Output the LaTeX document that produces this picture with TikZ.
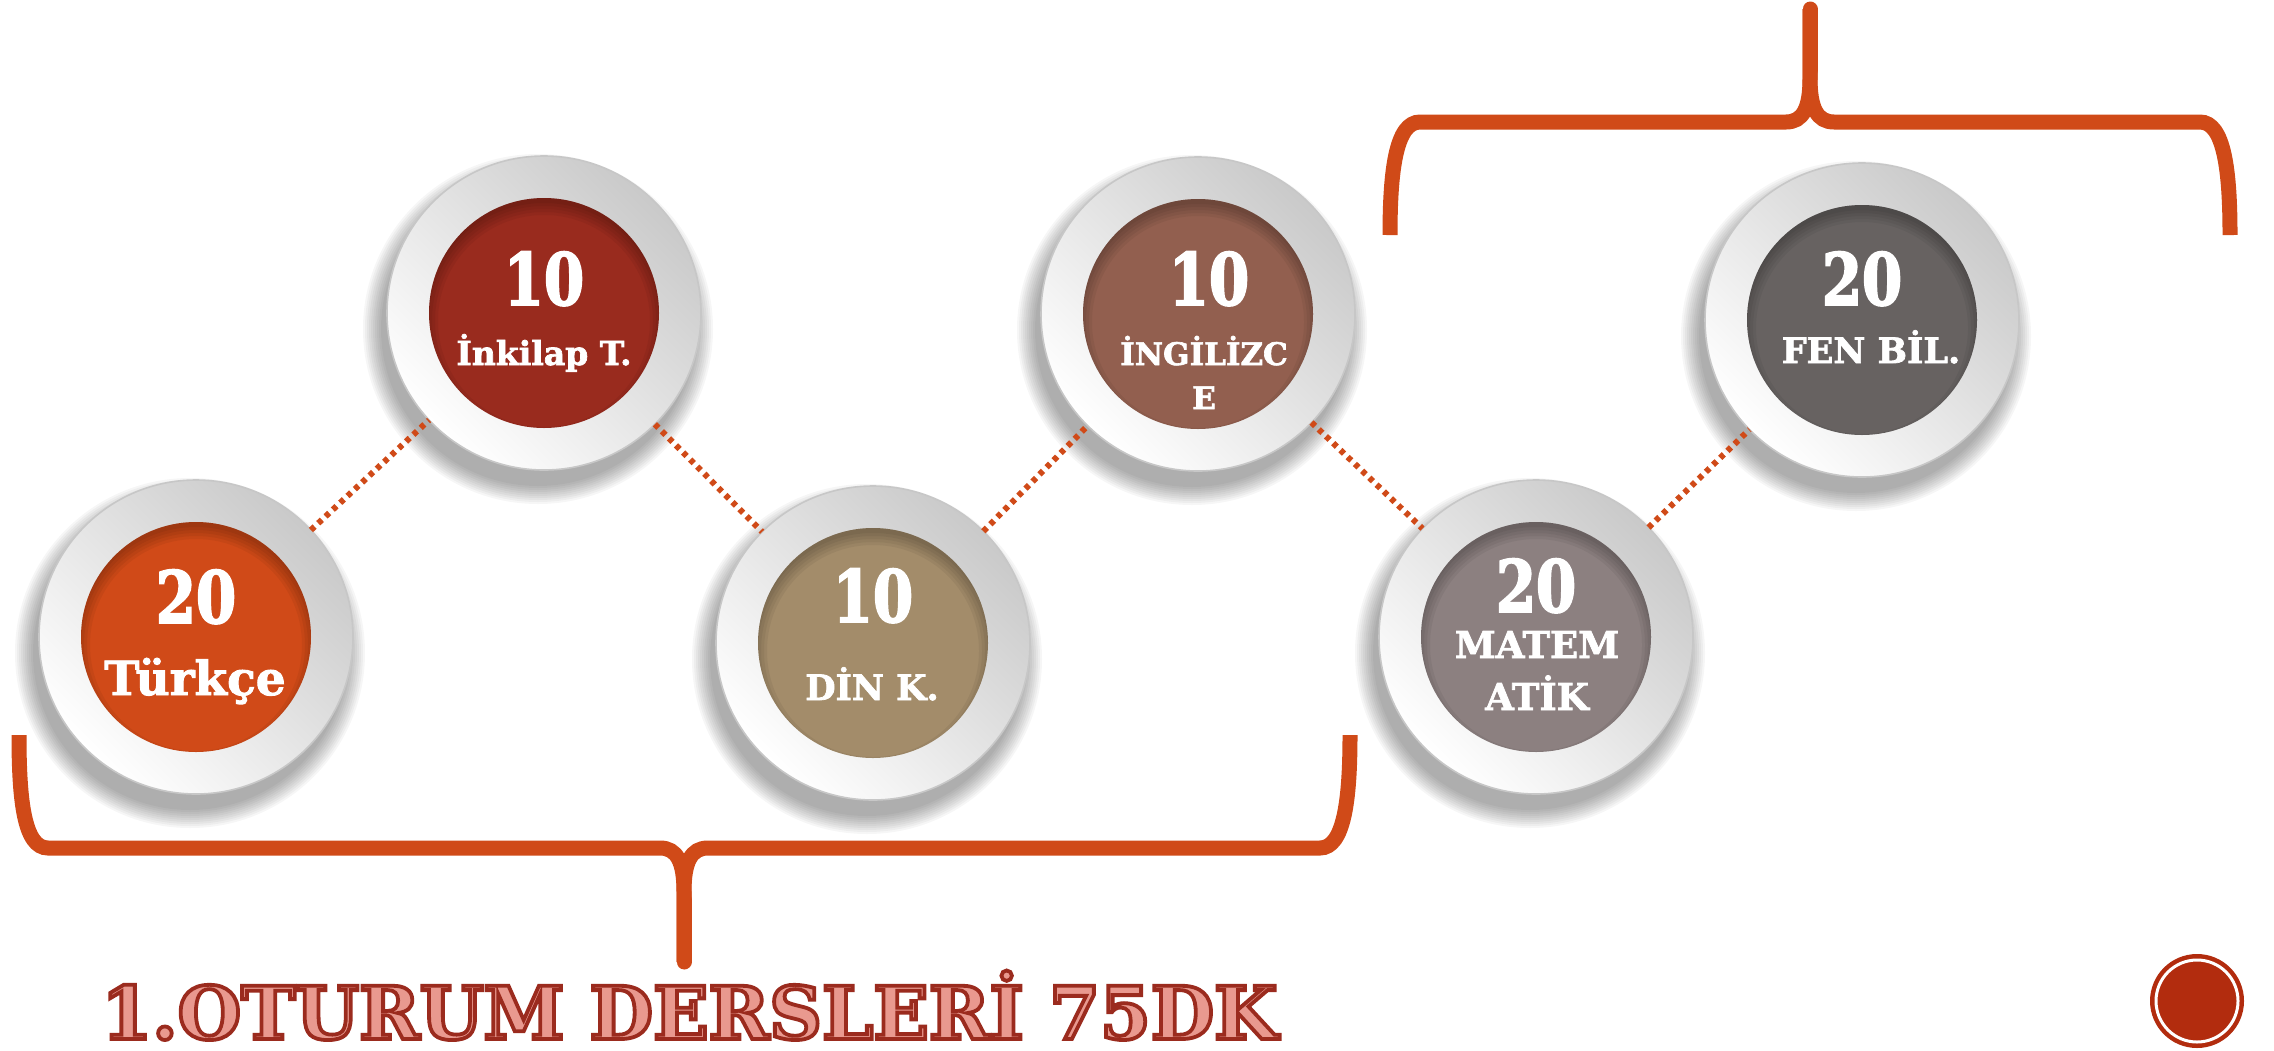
\documentclass[tikz,border=0pt]{standalone}
\usepackage{fontspec}
\setmainfont{DejaVu Serif}
\newfontfamily\slab{DejaVu Serif}[FakeBold=2]
\newfontfamily\slabnum{DejaVu Serif}[FakeStretch=0.8, FakeBold=2.5]
\newfontfamily\titlefont{DejaVu Serif}[FakeBold=5.2]
\usetikzlibrary{calc}
\definecolor{brace}{RGB}{208,74,24}
\definecolor{cT}{RGB}{208,74,24}
\definecolor{cI}{RGB}{153,43,30}
\definecolor{cD}{RGB}{163,140,106}
\definecolor{cE}{RGB}{146,95,79}
\definecolor{cM}{RGB}{140,128,128}
\definecolor{cF}{RGB}{103,98,97}
\definecolor{tdark}{RGB}{155,43,30}
\definecolor{tpink}{RGB}{233,153,143}
\definecolor{slideno}{RGB}{178,44,14}
\newcommand\lblfont[1]{\slab\bfseries\fontsize{#1}{#1}\selectfont}
\tikzset{
  ring/.style={circle, inner sep=0pt, outer sep=0pt, minimum size=314*0.5pt,
    top color=black!21, bottom color=white, shading angle=-45, draw=black!22, line width=0.8pt},
  disk/.style={circle, inner sep=0pt, minimum size=230*0.5pt},
  num/.style={text=white, font=\slabnum\bfseries\fontsize{36}{36}\selectfont, anchor=base, inner sep=0pt},
  lbl/.style={text=white, anchor=base, inner sep=0pt},
  dotline/.style={draw=brace, line width=3pt, dash pattern=on 2.5pt off 2.5pt},
  bracepath/.style={draw=brace, line width=7.5pt},
  ttl/.style={anchor=base west, inner sep=0pt, font=\titlefont\bfseries\fontsize{36.5}{36.5}\selectfont},
}
\newcommand\mkplate[4]{%
  \foreach \k in {0,...,9} {\fill[black, opacity=0.035] (#2-6,#3+16) circle (157+2*\k);}
  \node[ring] (#1) at (#2,#3) {};
  \node[disk, fill=#4] (#1in) at (#1) {};
  \begin{scope}
    \clip (#2,#3) circle (115);
    \foreach \k in {1,...,5} {\draw[black, opacity=0.05, line width=\k*3pt] (#2,#3+8) circle (121);}
  \end{scope}
}
\begin{document}
\begin{tikzpicture}[x=0.5pt, y=-0.5pt]
\useasboundingbox (0,0) rectangle (2274,1050);
\fill[white] (0,0) rectangle (2274,1050);

% braces
\draw[bracepath] (19,735) .. controls (19,800) and (24,848) .. (48,848) -- (660,848)
  .. controls (677,848) and (684,862) .. (684,892) -- (684,962);
\draw[bracepath] (1350,735) .. controls (1350,800) and (1344,848) .. (1320,848) -- (708,848)
  .. controls (691,848) and (684,862) .. (684,892) -- (684,962);
\draw[bracepath, line cap=round] (684,900) -- (684,962);

\draw[bracepath] (1390,235) .. controls (1390,170) and (1396,122) .. (1420,122) -- (1786,122)
  .. controls (1803,122) and (1810,108) .. (1810,78) -- (1810,9);
\draw[bracepath] (2230,235) .. controls (2230,170) and (2224,122) .. (2200,122) -- (1834,122)
  .. controls (1817,122) and (1810,108) .. (1810,78) -- (1810,9);
\draw[bracepath, line cap=round] (1810,70) -- (1810,9);

% plates
\mkplate{t}{196}{637}{cT}
\mkplate{i}{544}{313}{cI}
\mkplate{d}{873}{643}{cD}
\mkplate{e}{1198}{314}{cE}
\mkplate{m}{1536}{637}{cM}
\mkplate{f}{1862}{320}{cF}

% connectors
\draw[dotline] (t) -- (i);
\draw[dotline] (i) -- (d);
\draw[dotline] (d) -- (e);
\draw[dotline] (e) -- (m);
\draw[dotline] (m) -- (f);

% texts
\node[num] (tnum) at (196,623) {20};
\node[lbl, font=\lblfont{23.5}] (tlbl) at (195,695) {Türkçe};
\node[num] (inum) at (544,305) {10};
\node[lbl, font=\lblfont{16.5}] (ilbl) at (544,365) {İnkilap T.};
\node[num] (dnum) at (873,622) {10};
\node[lbl, font=\lblfont{17.5}] (dlbl) at (872,700) {DİN K.};
\node[num] (enum) at (1209,305) {10};
\node[lbl, font=\lblfont{15.5}] (elbl) at (1204,365) {İNGİLİZC};
\node[lbl, font=\lblfont{15.5}] (elbl2) at (1204,409) {E};
\node[num] (mnum) at (1536,612) {20};
\node[lbl, font=\lblfont{18.5}] (mlbl) at (1537,658) {MATEM};
\node[lbl, font=\lblfont{18.5}] (mlbl2) at (1537,710) {ATİK};
\node[num] (fnum) at (1862,305) {20};
\node[lbl, font=\lblfont{17.5}] (flbl) at (1871,363) {FEN BİL.};

% title: pink fill, dark red stroke (fake-bold stroke)
\node[ttl, text=tpink] (title) at (101,1039)
  {\special{pdf:literal direct 0.608 0.169 0.118 RG}1.OTURUM DERSLERİ 75DK};

% slide number mark
\node[circle, fill=slideno, minimum size=94*0.5pt, inner sep=0pt] (sn) at (2197,1001) {};
\draw[white, line width=1.5pt] (sn.center) circle (41);
\end{tikzpicture}
\end{document}
